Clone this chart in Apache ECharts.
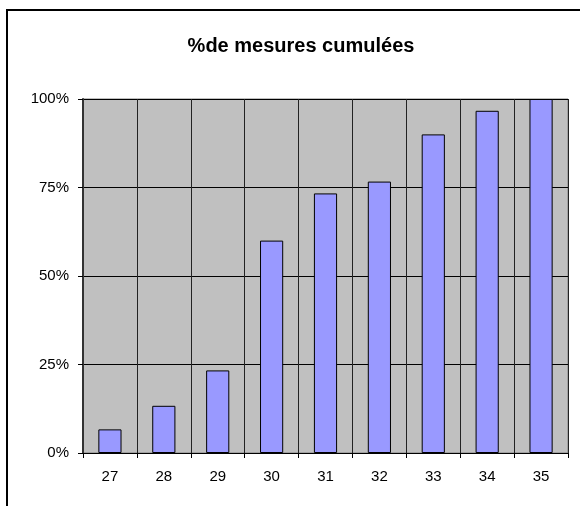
<!DOCTYPE html>
<html>
<head>
<meta charset="utf-8">
<script src="https://cdn.jsdelivr.net/npm/echarts@6/dist/echarts.min.js"></script>
<style>
  html, body { margin: 0; padding: 0; background: #fff; }
  #chart { width: 580px; height: 506px; }
</style>
</head>
<body>
<div id="chart"></div>
<script>
const categories = ['27', '28', '29', '30', '31', '32', '33', '34', '35']
// cumulated share of measures (counts out of 30)
const cumulated = [0.0667, 0.1333, 0.2333, 0.6, 0.7333, 0.7667, 0.9, 0.9667, 1.0]
const yTicks = [0, 0.25, 0.5, 0.75, 1]

const font = 'Liberation Sans, Arial, sans-serif'
const chart = echarts.init(document.getElementById('chart'))

chart.setOption({
  animation: false,
  title: {
    text: '%de mesures cumulées',
    left: 296,
    textAlign: 'center',
    top: 31,
    textStyle: { fontFamily: font, fontSize: 20, fontWeight: 'bold', color: '#000' },
  },
  graphic: [{
    type: 'rect',
    shape: { x: 7, y: 10, width: 700, height: 700 },
    style: { fill: 'none', stroke: '#000', lineWidth: 2 },
    silent: true,
  }],
  grid: {
    left: 83,
    top: 99,
    width: 485,
    height: 354,
    show: true,
    backgroundColor: '#c0c0c0',
    borderColor: '#808080',
    borderWidth: 1,
  },
  xAxis: {
    type: 'category',
    data: categories,
    axisLine: { lineStyle: { color: '#000', width: 1 } },
    axisTick: { show: true, length: 5, lineStyle: { color: '#000' } },
    axisLabel: { margin: 16, fontFamily: font, fontSize: 15, color: '#000' },
    splitLine: { show: true, lineStyle: { color: '#222', width: 1 } },
  },
  yAxis: {
    type: 'value',
    min: yTicks[0],
    max: yTicks[yTicks.length - 1],
    interval: 0.25,
    axisLine: { show: true, lineStyle: { color: '#333', width: 2 } },
    axisTick: { show: true, length: 5, lineStyle: { color: '#000' } },
    axisLabel: {
      margin: 14,
      fontFamily: font,
      fontSize: 15,
      color: '#000',
      formatter: v => Math.round(v * 100) + '%',
    },
    splitLine: { show: true, lineStyle: { color: '#000', width: 1 } },
  },
  series: [{
    type: 'bar',
    data: cumulated,
    barWidth: '43%',
    itemStyle: { color: '#9999ff', borderColor: '#000', borderWidth: 1 },
  }],
})
</script>
</body>
</html>
